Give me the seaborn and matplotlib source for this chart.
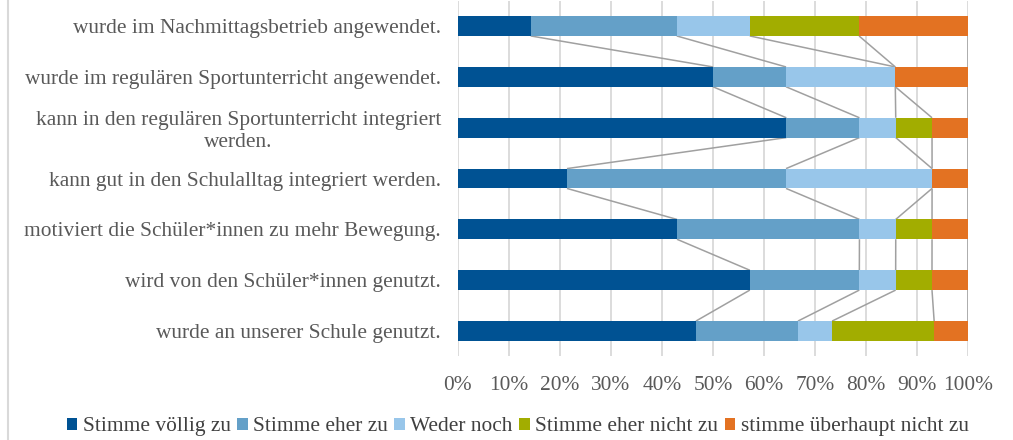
import numpy as np
import pandas as pd
import matplotlib
matplotlib.use("Agg")
import matplotlib.pyplot as plt
from matplotlib.patches import Patch
from matplotlib.lines import Line2D
import seaborn as sns

categories = [
    "wurde im Nachmittagsbetrieb angewendet.",
    "wurde im regulären Sportunterricht angewendet.",
    "kann in den regulären Sportunterricht integriert\nwerden.",
    "kann gut in den Schulalltag integriert werden.",
    "motiviert die Schüler*innen zu mehr Bewegung.",
    "wird von den Schüler*innen genutzt.",
    "wurde an unserer Schule genutzt.",
]
series_names = ["Stimme völlig zu", "Stimme eher zu", "Weder noch",
                "Stimme eher nicht zu", "stimme überhaupt nicht zu"]
voellig   = [14.3, 50.0, 64.3, 21.4, 42.9, 57.1, 46.7]
eher      = [28.6, 14.3, 14.3, 42.9, 35.7, 21.4, 20.0]
weder     = [14.3, 21.4,  7.1, 28.6,  7.1,  7.1,  6.7]
eher_nich = [21.4,  0.0,  7.1,  0.0,  7.1,  7.1, 20.0]
ueberhaupt= [21.4, 14.3,  7.1,  7.1,  7.1,  7.1,  6.7]
colors = ["#005293", "#64A0C8", "#98C6EA", "#A2AD00", "#E37222"]

sns.set_theme(style="white")
plt.rcParams['font.family'] = ['Liberation Serif', 'DejaVu Serif']
text_color = "#595959"

vals = np.array([voellig, eher, weder, eher_nich, ueberhaupt])
cum = np.cumsum(vals, axis=0)
cum = cum / cum[-1] * 100.0

fig = plt.figure(figsize=(10.13, 4.40), dpi=100)
ax = fig.add_axes([0.4518, 0.19, 0.5041, 0.8086])

bar_w = 0.39
for k in range(4, -1, -1):
    df = pd.DataFrame({"cat": categories, "val": cum[k]})
    sns.barplot(data=df, x="val", y="cat", orient="h", color=colors[k],
                saturation=1, width=bar_w, ax=ax, linewidth=0, zorder=3)

# series lines
for k in range(5):
    for i in range(len(categories) - 1):
        ax.plot([cum[k][i], cum[k][i + 1]], [i + bar_w / 2, i + 1 - bar_w / 2],
                color="#A0A0A0", lw=1.1, zorder=2, solid_capstyle="butt")

ax.set_xlim(0, 100)
ax.set_ylim(len(categories) - 0.5, -0.5)
ax.set_xticks(np.arange(0, 101, 10))
ax.set_xticklabels([f"{t}%" for t in range(0, 101, 10)])
ax.xaxis.grid(True, color="#D9D9D9", lw=1.3, zorder=0)
ax.yaxis.grid(False)
ax.set_axisbelow(True)
for s in ax.spines.values():
    s.set_visible(False)
ax.set_xlabel("")
ax.set_ylabel("")
ax.tick_params(axis="both", length=0, labelsize=15.4, colors=text_color)
ax.tick_params(axis="x", pad=14)
ax.tick_params(axis="y", pad=12)
for lab in ax.get_yticklabels():
    lab.set_multialignment("center")

handles = [Patch(facecolor=c, edgecolor="none") for c in colors]
leg = fig.legend(handles, series_names, loc="center", bbox_to_anchor=(0.511, 0.03),
                 ncol=5, frameon=False, fontsize=15.4, handlelength=0.5, handleheight=0.5,
                 handletextpad=0.25, columnspacing=0.3, borderaxespad=0)
for t in leg.get_texts():
    t.set_color("#404040")

fig.add_artist(Line2D([8 / 1013, 8 / 1013], [0, 1], color="#D9D9D9", lw=1.5,
                      transform=fig.transFigure))

fig.savefig("out.png", dpi=100)
